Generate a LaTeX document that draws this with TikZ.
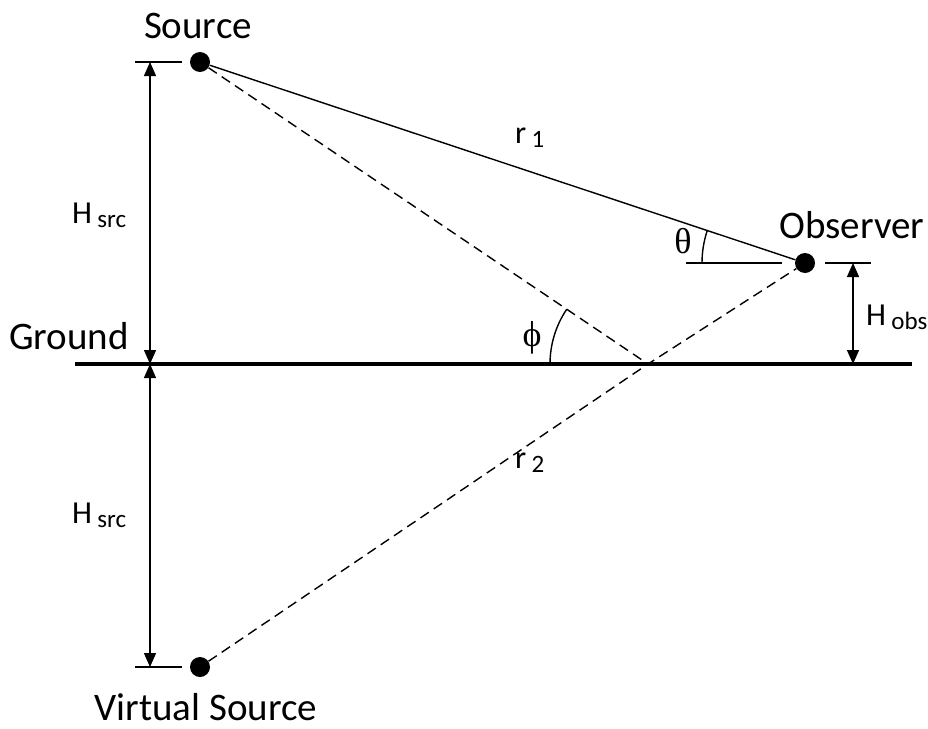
\documentclass[tikz,border=0pt]{standalone}
\usepackage{fontspec}
\setmainfont{Carlito}
\newfontfamily\grk{Liberation Serif}
\usetikzlibrary{arrows.meta}
\tikzset{
  dot/.style={circle,fill=black,inner sep=0pt,minimum size=20pt},
  thinline/.style={line width=1.4pt},
  dashline/.style={line width=1.4pt,dash pattern=on 10pt off 6pt},
  dimarrow/.style={line width=1.4pt,{Triangle[width=12pt,length=14pt]}-{Triangle[width=12pt,length=14pt]}},
  lbl/.style={inner sep=0pt,font=\fontsize{39}{42}\selectfont},
  sym/.style={inner sep=0pt,font=\fontsize{32}{34}\selectfont},
  greek/.style={inner sep=0pt,font=\fontsize{36}{38}\selectfont\grk},
}
\newcommand{\sbs}[1]{\raisebox{-4pt}{\fontsize{25}{27}\selectfont #1}}
\begin{document}
\begin{tikzpicture}[x=1pt,y=-1pt]
\useasboundingbox (0,0) rectangle (928,728);
% points
\node[dot] (src) at (200,62) {};
\node[dot] (obs) at (805,263) {};
\node[dot] (vsrc) at (200,667) {};
\coordinate (refl) at (648,364);
% ground
\coordinate (gl) at (75,364);
\coordinate (gr) at (912,364);
\draw[line width=4pt] (gl) -- (gr);
% rays
\draw[thinline] (src) -- (obs);
\draw[dashline] (src) -- (refl);
\draw[dashline] (vsrc) -- (refl) -- (obs);
% left dimension ticks
\coordinate (t1a) at (135,62); \coordinate (t1b) at (182,62);
\coordinate (t2a) at (135,667); \coordinate (t2b) at (182,667);
\draw[thinline] (t1a) -- (t1b);
\draw[thinline] (t2a) -- (t2b);
\coordinate (d1) at (150,62);
\coordinate (d2) at (150,364);
\coordinate (d3) at (150,667);
\draw[dimarrow] (d1) -- (d2);
\draw[dimarrow] (d2) -- (d3);
% observer dimension
\coordinate (t3a) at (825,263); \coordinate (t3b) at (871,263);
\draw[thinline] (t3a) -- (t3b);
\coordinate (d4) at (853,263);
\coordinate (d5) at (853,364);
\draw[dimarrow] (d4) -- (d5);
% theta reference line and arc
\coordinate (h1) at (686,263); \coordinate (h2) at (782,263);
\draw[thinline] (h1) -- (h2);
\draw[thinline] (obs.center) ++(180:103) arc[start angle=180,end angle=198.4,radius=103];
% phi arc
\draw[thinline] (refl) ++(180:98) arc[start angle=180,end angle=214,radius=98];
% labels
\node[lbl,anchor=base] (lsrc) at (198,38) {Source};
\node[lbl,anchor=base] (lobs) at (852,238) {Observer};
\node[lbl,anchor=base west] (lgnd) at (9,349) {Ground};
\node[lbl,anchor=base] (lvsrc) at (206,720) {Virtual Source};
\node[sym,anchor=base west] (hs1) at (72,223) {H\,\sbs{src}};
\node[sym,anchor=base west] (hs2) at (72,523) {H\,\sbs{src}};
\node[sym,anchor=base west] (ho) at (866,325) {H\,\sbs{obs}};
\node[sym,anchor=base west] (r1) at (515,143) {r\,\sbs{1}};
\node[sym,anchor=base west] (r2) at (515,468) {r\,\sbs{2}};
\node[greek] (th) at (683,241) {θ};
\node[greek] (ph) at (532,338) {ϕ};
\end{tikzpicture}
\end{document}
